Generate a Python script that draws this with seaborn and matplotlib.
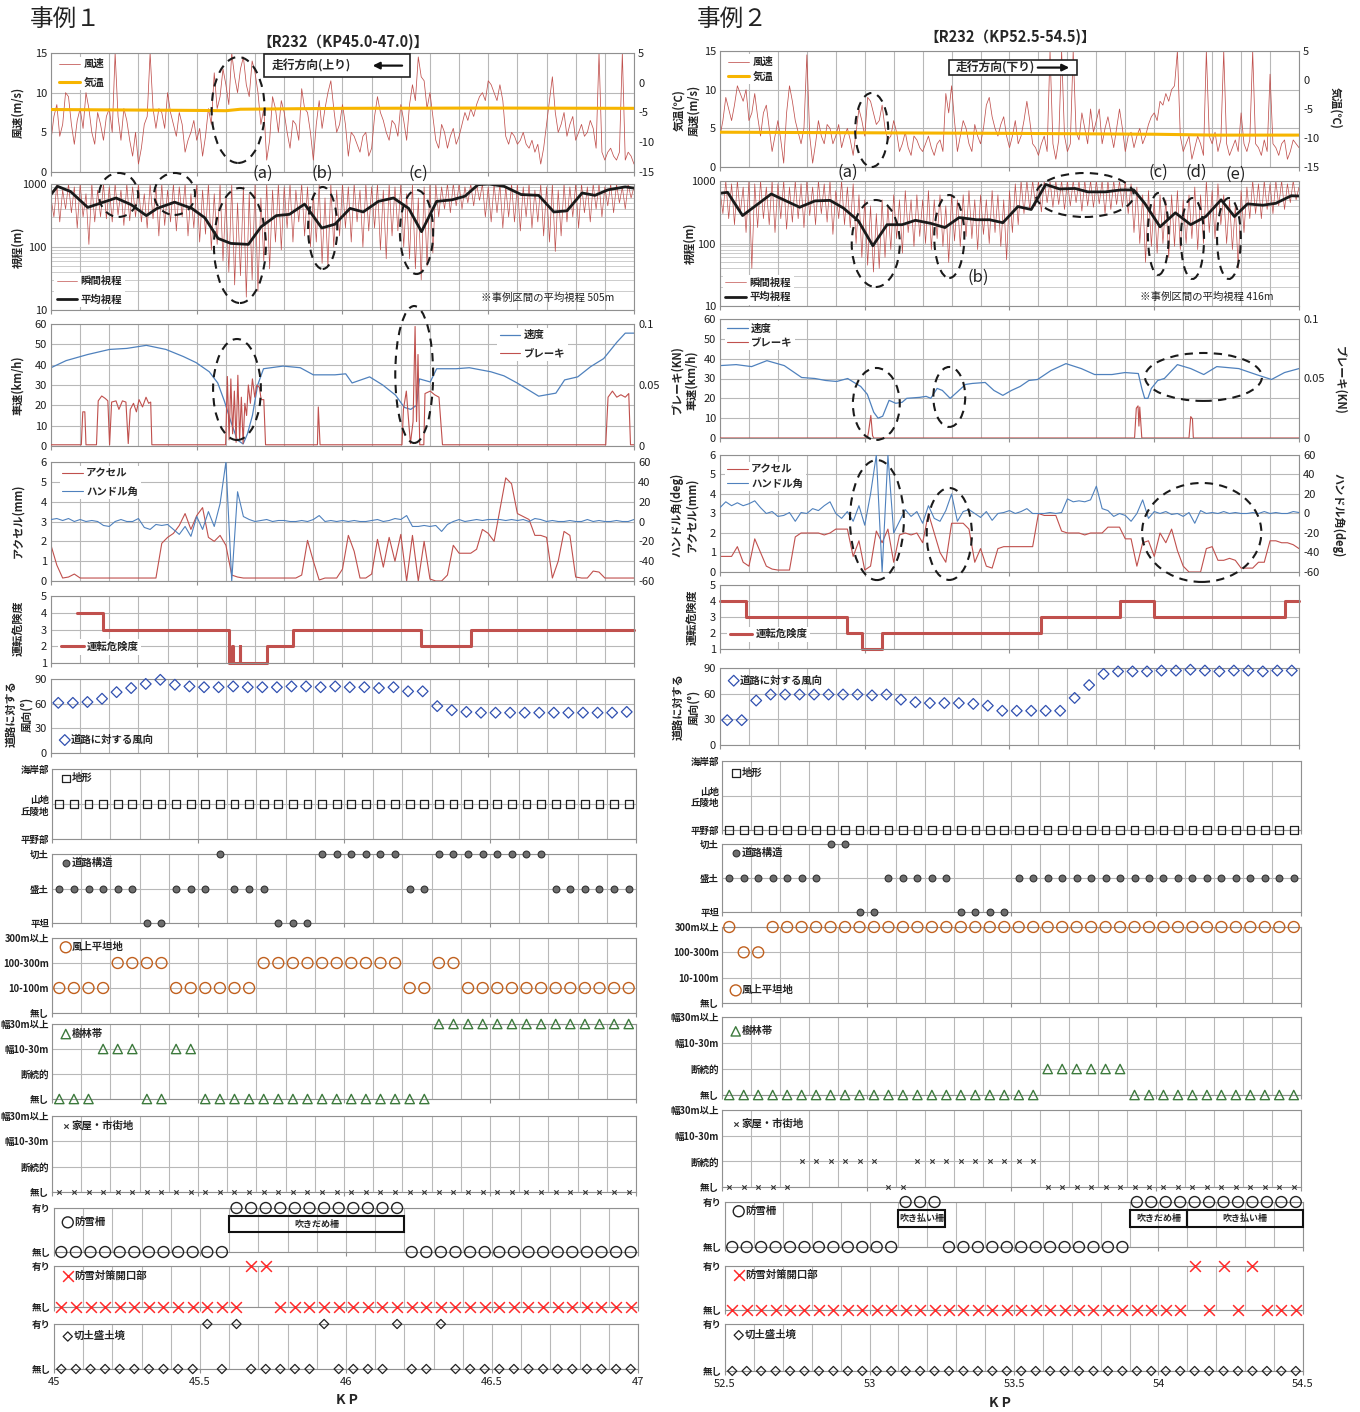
import numpy as np
import seaborn as sns
import matplotlib.pyplot as plt
from matplotlib.patches import Ellipse, Rectangle
from matplotlib.ticker import LogLocator, NullFormatter

# ---------------- data ----------------
# fast signals (wind, visibility) sampled every 0.01 KP, pedal/steering every 0.02 KP
kp1f = np.linspace(45.0, 47.0, 201)
kp2f = np.linspace(52.5, 54.5, 201)
kp1 = np.linspace(45.0, 47.0, 101)
kp2 = np.linspace(52.5, 54.5, 101)
# evaluation points every 50 m
kpc1 = 45.025 + 0.05 * np.arange(40)
kpc2 = 52.525 + 0.05 * np.arange(40)

# wind speed (m/s)
wind1 = [4, 7, 8.5, 4.5, 6, 10, 9.5, 6, 3.5, 6.5,
         8, 5.5, 10, 8, 5, 3.5, 7.5, 6, 4, 7,
         8, 5, 15, 7, 4, 8, 6.5, 4, 2, 5,
         1, 3, 6, 7, 15, 8, 5.5, 8, 7.5, 5.5,
         10, 7.5, 6, 4.5, 7.5, 6, 2.5, 4, 5, 6.5,
         4, 5.5, 2, 4.5, 8, 6, 12.5, 8, 9.5, 13,
         11, 8.5, 15, 12, 10, 13, 14.5, 11, 9.5, 14,
         12.5, 10, 6, 8, 1.5, 4, 9.5, 8, 5, 9,
         7.5, 5, 3, 6.5, 6, 4, 10.5, 8, 7.5, 5,
         1.5, 6, 9, 5.5, 8, 10, 11.5, 8, 5, 6,
         8.5, 6, 2, 5, 4.5, 3.5, 2.5, 4.5, 5, 2,
         3, 7, 9.5, 7.5, 6.5, 5, 4, 6.5, 6, 4.5,
         8.5, 6.5, 4, 8.5, 11, 9, 14.5, 12, 11.5, 8,
         10, 7, 4, 3, 6, 5, 3, 4.5, 5.5, 3.5,
         4.5, 6, 7.5, 6.5, 8, 7, 8.5, 9.5, 10, 9,
         11.5, 11, 10, 9, 11, 9, 4.5, 3.5, 5, 4.5,
         3.5, 4, 5, 3.5, 3, 4, 2.5, 3.5, 1, 3,
         6, 9, 12, 7.5, 5, 6, 7.5, 4.5, 6, 7,
         4, 5, 6, 4.5, 5, 6.5, 5.5, 3, 15, 2.5,
         1.5, 2.5, 3, 2, 1.5, 2.5, 15, 1.5, 2.5, 2,
         1]
wind2 = [4, 6, 9, 7.5, 6, 8, 10.5, 9.5, 8.5, 10,
         6, 7, 9.5, 6.5, 4, 7, 8, 5, 2, 4,
         6, 3.5, 0.5, 7, 10.5, 8.5, 6, 4.5, 3, 5,
         14.5, 4, 0.5, 3, 6, 4, 3, 5.5, 5, 3,
         4, 5.5, 2.5, 4, 5, 3.5, 1.5, 4.5, 7.5, 6,
         4, 9, 8.5, 7, 5.5, 6, 8, 5, 3.5, 4,
         6, 4.5, 2, 3, 4.5, 2.5, 1.5, 4, 3.5, 2.5,
         2, 3, 4, 2.5, 1.5, 3, 3.5, 2, 9.5, 7,
         10.5, 6, 2, 4, 6, 5, 3, 2, 5.5, 4,
         3, 5, 8, 9, 6.5, 5, 4, 5.5, 6.5, 4,
         2.5, 4, 6, 3, 4, 6, 8.5, 6, 3, 2.5,
         1.5, 3, 4, 2, 15, 3, 1, 3.5, 15, 4,
         2, 3, 15, 4.5, 3.5, 7, 5, 3, 7.5, 4.5,
         6, 7.5, 3, 5, 6.5, 4.5, 2.5, 5, 7.5, 5,
         2, 4, 4.5, 2.5, 4, 5, 3, 4, 5.5, 6.5,
         7, 6, 8.5, 8, 9.5, 8.5, 10, 10.5, 15, 4,
         2, 3, 4, 1, 2.5, 4, 3, 1.5, 15, 4,
         3, 4.5, 2, 3.5, 15, 3, 1.5, 2.5, 3.5, 2,
         7, 3, 2, 3.5, 15, 3, 2.5, 1.5, 3.5, 2,
         12, 3, 2.5, 1.5, 3, 3.5, 1, 2, 3.5, 3,
         2.5]

# air temperature (deg C)
temp1_kp = [45.0, 45.5, 45.6, 45.65, 46.0, 46.5, 47.0]
temp1 = [-4.5, -4.65, -4.7, -4.45, -4.3, -4.25, -4.3]
temp2_kp = [52.5, 53.0, 53.5, 54.0, 54.2, 54.5]
temp2 = [-9.0, -9.1, -9.2, -9.35, -9.5, -9.5]

# instantaneous visibility (m)
vis1 = [600, 300, 1000, 250, 800, 400, 1000, 350, 900, 200,
        1000, 300, 700, 110, 1000, 250, 800, 300, 1000, 280,
        900, 250, 1000, 320, 800, 220, 1000, 260, 900, 300,
        1000, 250, 700, 200, 1000, 280, 900, 150, 1000, 220,
        800, 250, 1000, 180, 900, 300, 1000, 150, 700, 200,
        1000, 120, 800, 160, 1000, 90, 700, 110, 1000, 60,
        600, 40, 1000, 25, 500, 35, 900, 16, 700, 30,
        1000, 20, 600, 60, 1000, 45, 800, 120, 1000, 90,
        900, 200, 1000, 120, 800, 250, 1000, 150, 900, 100,
        700, 120, 1000, 55, 600, 50, 1000, 100, 800, 150,
        1000, 200, 900, 120, 1000, 250, 800, 100, 1000, 180,
        900, 200, 1000, 90, 800, 65, 1000, 150, 900, 180,
        1000, 100, 700, 65, 1000, 45, 600, 30, 900, 50,
        1000, 80, 1000, 300, 900, 400, 1000, 350, 1000, 450,
        1000, 400, 900, 500, 1000, 450, 1000, 550, 1000, 300,
        900, 250, 1000, 350, 1000, 200, 900, 300, 1000, 250,
        1000, 180, 900, 300, 1000, 200, 800, 250, 1000, 150,
        900, 120, 1000, 85, 800, 150, 1000, 250, 900, 300,
        1000, 200, 1000, 350, 900, 250, 1000, 400, 1000, 300,
        900, 450, 1000, 350, 1000, 500, 900, 400, 1000, 600,
        900]
vis2 = [700, 300, 1000, 250, 900, 200, 1000, 300, 800, 150,
        1000, 40, 900, 180, 1000, 250, 800, 200, 1000, 150,
        900, 250, 1000, 170, 800, 220, 1000, 250, 900, 180,
        1000, 280, 800, 200, 1000, 300, 900, 220, 1000, 140,
        700, 250, 1000, 200, 800, 180, 900, 100, 600, 60,
        500, 45, 400, 35, 300, 40, 500, 60, 400, 80,
        600, 120, 500, 70, 700, 150, 500, 90, 600, 130,
        500, 100, 700, 80, 500, 120, 600, 90, 400, 50,
        600, 110, 500, 90, 600, 130, 700, 120, 500, 80,
        600, 140, 500, 100, 700, 150, 600, 90, 500, 55,
        700, 150, 900, 200, 1000, 300, 1000, 350, 1000, 400,
        1000, 320, 1000, 450, 1000, 380, 1000, 420, 1000, 350,
        1000, 400, 1000, 450, 1000, 330, 1000, 400, 1000, 380,
        1000, 430, 1000, 300, 1000, 350, 1000, 420, 1000, 380,
        1000, 300, 900, 150, 800, 100, 600, 50, 700, 90,
        500, 70, 600, 100, 500, 60, 600, 90, 700, 80,
        500, 100, 600, 120, 800, 80, 600, 100, 1000, 150,
        700, 120, 900, 200, 600, 100, 500, 80, 400, 40,
        700, 150, 800, 250, 1000, 300, 900, 250, 1000, 350,
        900, 300, 1000, 400, 1000, 350, 900, 450, 1000, 500,
        800]

# mean visibility (m)
vis1_avg_kp = [45.0, 45.022, 45.067, 45.126, 45.223, 45.275, 45.327, 45.364, 45.424, 45.483,
               45.528, 45.573, 45.617, 45.677, 45.721, 45.773, 45.818, 45.870, 45.929, 45.974,
               46.026, 46.071, 46.123, 46.175, 46.227, 46.271, 46.323, 46.375, 46.420, 46.465,
               46.502, 46.554, 46.613, 46.673, 46.725, 46.770, 46.822, 46.866, 46.911, 46.970, 47.0]
vis1_avg = [680, 920, 760, 425, 600, 470, 315, 410, 515, 410,
            290, 137, 114, 110, 210, 315, 330, 480, 200, 230,
            410, 360, 530, 600, 410, 175, 530, 560, 640, 975,
            1000, 920, 680, 660, 360, 375, 720, 660, 810, 900, 860]
vis2_avg_kp = [52.5, 52.526, 52.578, 52.677, 52.775, 52.828, 52.880, 52.926, 52.978, 53.028,
               53.077, 53.129, 53.175, 53.228, 53.277, 53.326, 53.386, 53.431, 53.477, 53.529,
               53.575, 53.625, 53.673, 53.726, 53.771, 53.831, 53.884, 53.929, 53.967, 54.020,
               54.073, 54.126, 54.178, 54.231, 54.277, 54.322, 54.375, 54.420, 54.473, 54.5]
vis2_avg = [635, 660, 280, 620, 380, 480, 490, 370, 230, 92,
            200, 200, 235, 210, 180, 260, 240, 240, 215, 390,
            350, 880, 745, 760, 670, 670, 720, 720, 440, 185,
            310, 200, 270, 500, 270, 430, 410, 440, 580, 575]

# vehicle speed (km/h)
speed1_kp = [45.0, 45.052, 45.126, 45.201, 45.260, 45.327, 45.394, 45.454, 45.498, 45.543,
             45.572, 45.595, 45.617, 45.639, 45.659, 45.674, 45.691, 45.709, 45.729, 45.796,
             45.855, 45.900, 45.974, 46.011, 46.033, 46.093, 46.138, 46.182, 46.212, 46.234,
             46.254, 46.264, 46.301, 46.323, 46.390, 46.435, 46.509, 46.554, 46.599, 46.673,
             46.732, 46.762, 46.807, 46.851, 46.896, 46.941, 46.970, 47.0]
speed1 = [38.5, 42, 45, 47.5, 48, 49.5, 47.5, 44, 41, 36.5,
          31, 22, 12, 3, 1, 6, 15, 30, 38, 39.3,
          38.5, 35, 35, 35.5, 31, 34, 30, 25, 19, 18,
          20, 33, 31.5, 38, 38, 38.5, 36.5, 34.5, 31, 24.5,
          26, 32.5, 34, 39, 43, 51, 55.5, 55.5]
speed2_kp = [52.5, 52.556, 52.609, 52.662, 52.722, 52.782, 52.828, 52.865, 52.903, 52.941,
             52.963, 52.986, 53.009, 53.031, 53.046, 53.062, 53.084, 53.107, 53.129, 53.145,
             53.190, 53.212, 53.228, 53.250, 53.268, 53.295, 53.318, 53.348, 53.371, 53.416,
             53.446, 53.477, 53.507, 53.537, 53.567, 53.597, 53.643, 53.695, 53.748, 53.794,
             53.854, 53.899, 53.945, 53.957, 53.967, 53.978, 53.990, 54.012, 54.035, 54.080,
             54.126, 54.171, 54.216, 54.292, 54.352, 54.405, 54.450, 54.5]
speed2 = [36.5, 37, 36, 39, 36.5, 30.5, 30, 29, 28.5, 30,
          28, 26, 22, 13, 10, 11, 19, 17.5, 18, 20,
          20.5, 21, 20, 25, 24, 20, 23, 27, 27.5, 28,
          24, 21.5, 24, 26, 29, 29.5, 34, 37.5, 35, 32,
          32, 33, 32.5, 25, 20, 20, 25, 29, 30, 37,
          35, 32, 36, 35, 32, 29.5, 33, 35]

# brake force (kN)
brake1_kp = [45.0, 45.104, 45.109, 45.116, 45.120, 45.156, 45.162, 45.174, 45.186, 45.195,
             45.201, 45.208, 45.223, 45.233, 45.245, 45.257, 45.265, 45.272, 45.283, 45.293,
             45.302, 45.314, 45.326, 45.335, 45.342, 45.346, 45.599, 45.605, 45.611, 45.617,
             45.623, 45.629, 45.635, 45.641, 45.647, 45.653, 45.659, 45.665, 45.671, 45.677,
             45.684, 45.691, 45.699, 45.706, 45.715, 45.721, 45.730, 45.736, 45.914, 45.917,
             45.923, 46.204, 46.209, 46.219, 46.227, 46.233, 46.242, 46.249, 46.254, 46.259,
             46.265, 46.279, 46.283, 46.301, 46.316, 46.331, 46.343, 46.903, 46.911, 46.926,
             46.941, 46.955, 46.970, 46.982, 46.988, 47.0]
brake1 = [0.001, 0.001, 0.028, 0.028, 0.001, 0.001, 0.037, 0.041, 0.039, 0.037,
          0.001, 0.036, 0.037, 0.03, 0.037, 0.036, 0.002, 0.03, 0.035, 0.028,
          0.038, 0.032, 0.04, 0.035, 0.036, 0.001, 0.001, 0.057, 0.005, 0.055,
          0.01, 0.045, 0.003, 0.058, 0.005, 0.04, 0.002, 0.035, 0.025, 0.05,
          0.035, 0.055, 0.04, 0.05, 0.048, 0.038, 0.038, 0.001, 0.001, 0.032,
          0.001, 0.001, 0.03, 0.045, 0.02, 0.002, 0.02, 0.098, 0.02, 0.075,
          0.001, 0.001, 0.043, 0.045, 0.042, 0.04, 0.001, 0.001, 0.04, 0.045,
          0.04, 0.042, 0.04, 0.043, 0.001, 0.001]
brake2_kp = [52.5, 53.009, 53.013, 53.021, 53.027, 53.031, 53.932, 53.938, 53.944, 53.947,
             53.950, 53.957, 54.120, 54.126, 54.132, 54.135, 54.5]
brake2 = [0, 0, 0.005, 0.019, 0.002, 0, 0, 0.025, 0.027, 0.01,
          0.026, 0, 0, 0.018, 0.016, 0, 0]

# accelerator (mm) and steering angle (deg)
accel1 = [1.8, 0.8, 0.15, 0.2, 0.35, 0.15, 0.15, 0.15, 0.15, 0.15,
          0.15, 0.15, 0.15, 0.15, 0.15, 0.15, 0.15, 0.15, 0.15, 1.9,
          2.2, 2.4, 2.8, 3.4, 2.6, 3.3, 3.7, 2.2, 2.0, 2.3,
          1.8, 0.3, 0.2, 0.15, 0.15, 0.15, 0.15, 0.15, 0.15, 0.15,
          0.15, 0.15, 0.15, 0.3, 2.05, 1.0, 0.05, 0.15, 0.15, 0.15,
          0.6, 2.3, 1.5, 0.15, 0.15, 0.35, 2.1, 0.7, 2.2, 1.0,
          2.35, 0.0, 2.3, 0.0, 2.0, 0.1, 0.0, 0.0, 0.3, 1.8,
          1.4, 1.4, 1.4, 1.6, 2.6, 2.4, 2.0, 3.6, 5.2, 4.9,
          3.4, 3.25, 3.1, 2.3, 2.3, 2.2, 0.15, 1.0, 2.5, 2.3,
          0.2, 0.15, 0.15, 0.5, 0.45, 0.15, 0.15, 0.15, 0.15, 0.15,
          0.15]
handle1 = [2, 3, 1, 3, 0, 2, 0, 1, 0, -4,
           -5, 0, 2, 0, 0, 3, -6, -8, -3, -4,
           -3, -8, -13, -5, -15, 5, -8, 10, -5, 18,
           60, -60, 30, 5, 2, 0, 1, 2, 0, 1,
           1, 0, 0, 1, 0, 2, 6, 0, 1, 0,
           1, 0, 1, 0, 0, 1, 2, 0, 1, 3,
           2, 6, -5, -5, -4, -5, -4, -10, -3, 0,
           2, 0, 1, 2, 1, 2, 2, 2, 1, 2,
           1, 2, 0, 3, 2, 0, 1, 0, 0, 1,
           0, 0, 2, 0, 1, 0, 0, 1, 0, 0,
           2]
accel2 = [0.8, 0.8, 0.8, 1.3, 0.5, 0.3, 1.7, 1.0, 0.3, 0.15,
          0.1, 0.1, 0.1, 1.8, 2.0, 2.0, 2.0, 2.0, 1.9, 2.0,
          2.2, 2.2, 2.2, 0.8, 1.6, 0.1, 0.3, 2.1, 1.5, 2.2,
          0.5, 1.9, 2.0, 1.9, 2.0, 1.5, 3.0, 2.0, 1.0, 0.5,
          2.5, 2.5, 2.5, 2.2, 0.5, 1.2, 0.3, 0.2, 1.2, 1.3,
          1.3, 1.3, 1.3, 1.3, 1.3, 3.0, 2.9, 2.9, 2.9, 2.1,
          2.0, 2.0, 2.0, 1.9, 2.0, 2.0, 2.0, 2.3, 2.3, 2.3,
          1.7, 1.7, 0.3, 1.5, 1.6, 0.8, 2.0, 1.5, 2.2, 1.1,
          0.3, 0.0, 0.0, 0.0, 1.2, 1.3, 0.6, 0.6, 0.7, 0.6,
          0.2, 0.2, 0.2, 0.5, 0.5, 1.6, 1.6, 1.5, 1.5, 1.4,
          1.2]
handle2 = [6, 12, 8, 11, 8, 10, 13, 6, 0, 2,
           -3, -2, 1, -8, 1, 0, 5, 3, 8, 12,
           0, -5, 2, -8, 8, -12, 20, 60, -60, 60,
           -20, -8, 4, -3, 2, -10, 8, -5, -8, 3,
           20, -8, 2, 4, 0, -4, 2, -7, 0, 1,
           3, 0, 2, 5, 0, 0, 0, 1, 0, 1,
           15, 12, 13, 12, 14, 28, 5, 3, -3, 0,
           -2, -8, 0, 14, -5, 2, 0, 2, -1, 0,
           -3, 1, -10, 3, 0, 1, 0, 2, 0, 1,
           0, 0, 1, 0, 2, 0, 1, 0, 0, 2,
           1]

# driving risk level (step values from each KP on)
risk1_kp = [45.09, 45.18, 45.61, 45.62, 45.623, 45.647, 45.65, 45.74, 45.83, 46.27, 46.44, 47.0]
risk1 = [4, 3, 1, 2, 1, 2, 1, 2, 3, 2, 3, 3]
risk2_kp = [52.5, 52.59, 52.94, 52.99, 53.06, 53.61, 53.88, 54.0, 54.45, 54.5]
risk2 = [4, 3, 2, 1, 2, 3, 4, 3, 4, 4]

# wind direction relative to the road (deg)
wdir1 = [61, 61, 62, 66, 74, 79, 84, 89, 83, 81, 80, 80, 81, 80, 80, 80, 81, 81, 80, 81,
         80, 80, 79, 80, 75, 75, 57, 52, 50, 49, 49, 49, 49, 49, 49, 49, 49, 49, 49, 50]
wdir2 = [29, 29, 52, 59, 59, 59, 59, 59, 59, 59, 58, 59, 53, 50, 49, 49, 49, 48, 46, 40,
         40, 40, 40, 40, 55, 70, 83, 86, 86, 86, 87, 87, 88, 87, 86, 87, 87, 86, 87, 87]

# roadside categories (index into the level names below)
terrain_levels = ["平野部", "山地\n丘陵地", "海岸部"]
road_levels = ["平坦", "盛土", "切土"]
flat_levels = ["無し", "10-100m", "100-300m", "300m以上"]
band_levels = ["無し", "断続的", "幅10-30m", "幅30m以上"]
yesno_levels = ["無し", "有り"]

terrain1 = [1, 1, 1, 1, 1, 1, 1, 1, 1, 1, 1, 1, 1, 1, 1, 1, 1, 1, 1, 1,
            1, 1, 1, 1, 1, 1, 1, 1, 1, 1, 1, 1, 1, 1, 1, 1, 1, 1, 1, 1]
road1 = [1, 1, 1, 1, 1, 1, 0, 0, 1, 1, 1, 2, 1, 1, 1, 0, 0, 0, 2, 2,
         2, 2, 2, 2, 1, 1, 2, 2, 2, 2, 2, 2, 2, 2, 1, 1, 1, 1, 1, 1]
flat1 = [1, 1, 1, 1, 2, 2, 2, 2, 1, 1, 1, 1, 1, 1, 2, 2, 2, 2, 2, 2,
         2, 2, 2, 2, 1, 1, 2, 2, 1, 1, 1, 1, 1, 1, 1, 1, 1, 1, 1, 1]
forest1 = [0, 0, 0, 2, 2, 2, 0, 0, 2, 2, 0, 0, 0, 0, 0, 0, 0, 0, 0, 0,
           0, 0, 0, 0, 0, 0, 3, 3, 3, 3, 3, 3, 3, 3, 3, 3, 3, 3, 3, 3]
house1 = [0, 0, 0, 0, 0, 0, 0, 0, 0, 0, 0, 0, 0, 0, 0, 0, 0, 0, 0, 0,
          0, 0, 0, 0, 0, 0, 0, 0, 0, 0, 0, 0, 0, 0, 0, 0, 0, 0, 0, 0]
fence1 = [0, 0, 0, 0, 0, 0, 0, 0, 0, 0, 0, 0, 1, 1, 1, 1, 1, 1, 1, 1,
          1, 1, 1, 1, 0, 0, 0, 0, 0, 0, 0, 0, 0, 0, 0, 0, 0, 0, 0, 0]
open1 = [0, 0, 0, 0, 0, 0, 0, 0, 0, 0, 0, 0, 0, 1, 1, 0, 0, 0, 0, 0,
         0, 0, 0, 0, 0, 0, 0, 0, 0, 0, 0, 0, 0, 0, 0, 0, 0, 0, 0, 0]
bound1 = [0, 0, 0, 0, 0, 0, 0, 0, 0, 0, 1, 0, 1, 0, 0, 0, 0, 0, 1, 0,
          0, 0, 0, 1, 0, 0, 1, 0, 0, 0, 0, 0, 0, 0, 0, 0, 0, 0, 0, 0]

terrain2 = [0, 0, 0, 0, 0, 0, 0, 0, 0, 0, 0, 0, 0, 0, 0, 0, 0, 0, 0, 0,
            0, 0, 0, 0, 0, 0, 0, 0, 0, 0, 0, 0, 0, 0, 0, 0, 0, 0, 0, 0]
road2 = [1, 1, 1, 1, 1, 1, 1, 2, 2, 0, 0, 1, 1, 1, 1, 1, 0, 0, 0, 0,
         1, 1, 1, 1, 1, 1, 1, 1, 1, 1, 1, 1, 1, 1, 1, 1, 1, 1, 1, 1]
flat2 = [3, 2, 2, 3, 3, 3, 3, 3, 3, 3, 3, 3, 3, 3, 3, 3, 3, 3, 3, 3,
         3, 3, 3, 3, 3, 3, 3, 3, 3, 3, 3, 3, 3, 3, 3, 3, 3, 3, 3, 3]
forest2 = [0, 0, 0, 0, 0, 0, 0, 0, 0, 0, 0, 0, 0, 0, 0, 0, 0, 0, 0, 0,
           0, 0, 1, 1, 1, 1, 1, 1, 0, 0, 0, 0, 0, 0, 0, 0, 0, 0, 0, 0]
house2 = [0, 0, 0, 0, 0, 1, 1, 1, 1, 1, 1, 0, 0, 1, 1, 1, 1, 1, 1, 1,
          1, 1, 0, 0, 0, 0, 0, 0, 0, 0, 0, 0, 0, 0, 0, 0, 0, 0, 0, 0]
fence2 = [0, 0, 0, 0, 0, 0, 0, 0, 0, 0, 0, 0, 1, 1, 1, 0, 0, 0, 0, 0,
          0, 0, 0, 0, 0, 0, 0, 0, 1, 1, 1, 1, 1, 1, 1, 1, 1, 1, 1, 1]
open2 = [0, 0, 0, 0, 0, 0, 0, 0, 0, 0, 0, 0, 0, 0, 0, 0, 0, 0, 0, 0,
         0, 0, 0, 0, 0, 0, 0, 0, 0, 0, 0, 0, 1, 0, 1, 0, 1, 0, 0, 0]
bound2 = [0, 0, 0, 0, 0, 0, 0, 0, 0, 0, 0, 0, 0, 0, 0, 0, 0, 0, 0, 0,
          0, 0, 0, 0, 0, 0, 0, 0, 0, 0, 0, 0, 0, 0, 0, 0, 0, 0, 0, 0]

# snow fence types (start KP, end KP, label)
fences1 = [(45.6, 46.2, "吹きだめ柵")]
fences2 = [(53.1, 53.26, "吹き払い柵"), (53.9, 54.1, "吹きだめ柵"), (54.1, 54.5, "吹き払い柵")]

# ---------------- style ----------------
sns.set_theme(style="white")
plt.rcParams["font.family"] = ["Noto Sans CJK JP", "DejaVu Sans"]
plt.rcParams["axes.unicode_minus"] = False

W, H = 1360, 1412
fig = plt.figure(figsize=(W / 100, H / 100), dpi=100)

RED = "#c0504d"
BLUE = "#4f81bd"
ORANGE = "#f7b500"
GRID = "#b8b8b8"
SPINE = "#909090"
TXT = "#1e1e1e"
FS = 8

CAT_STYLE = [
    (terrain_levels, "地形", dict(marker="s", s=30, facecolor="none", edgecolor="#222222", linewidth=0.9)),
    (road_levels, "道路構造", dict(marker="o", s=24, color="#6e6e6e", edgecolor="#333333", linewidth=0.8)),
    (flat_levels, "風上平坦地", dict(marker="o", s=62, facecolor="none", edgecolor="#c0601e", linewidth=1.0)),
    (band_levels, "樹林帯", dict(marker="^", s=45, facecolor="none", edgecolor="#3d7a3d", linewidth=1.0)),
    (band_levels, "家屋・市街地", dict(marker="x", s=10, color="#333333", linewidth=0.8)),
    (yesno_levels, "防雪柵", dict(marker="o", s=62, facecolor="none", edgecolor="#222222", linewidth=1.0)),
    (yesno_levels, "防雪対策開口部", dict(marker="x", s=60, color="#ff2a2a", linewidth=1.1)),
    (yesno_levels, "切土盛土境", dict(marker="D", s=22, facecolor="none", edgecolor="#222222", linewidth=0.9)),
]


def px_ax(x0, x1, y0, y1):
    return fig.add_axes([x0 / W, 1 - y1 / H, (x1 - x0) / W, (y1 - y0) / H])


def frame(ax, k0, bottom=False):
    ax.set_xlim(k0, k0 + 2)
    major = np.arange(k0, k0 + 2.001, 0.5)
    ax.set_xticks(major)
    ax.set_xticks(np.arange(k0, k0 + 2.001, 0.1), minor=True)
    ax.set_axisbelow(True)
    ax.grid(True, which="both", axis="x", color=GRID, linewidth=0.8)
    ax.grid(True, which="major", axis="y", color=GRID, linewidth=0.8)
    ax.tick_params(axis="x", which="major", bottom=True, length=3, width=0.8,
                   color=SPINE, labelsize=FS, pad=3, labelcolor=TXT)
    ax.tick_params(axis="x", which="minor", length=0)
    ax.tick_params(axis="y", which="both", length=0, labelsize=FS, pad=3, labelcolor=TXT)
    for s in ax.spines.values():
        s.set_color(SPINE)
        s.set_linewidth(0.8)
    ax.set_xlabel("")
    ax.set_ylabel("")
    if bottom:
        ax.set_xticklabels([f"{v:g}" for v in major])
    else:
        ax.tick_params(axis="x", labelbottom=False)


def twin(t, lo, hi, ticks, labels=None):
    t.set_ylim(lo, hi)
    t.set_yticks(ticks)
    if labels:
        t.set_yticklabels(labels)
    t.tick_params(axis="y", length=0, labelsize=FS, pad=3, labelcolor=TXT)
    t.grid(False)
    for s in t.spines.values():
        s.set_visible(False)
    t.set_ylabel("")


def leg(ax, handles, labels, loc, anchor, spacing=0.5, hl=2.0, tp=0.3, bg=True):
    lg = ax.legend(handles, labels, loc=loc, bbox_to_anchor=anchor, frameon=bg,
                   fancybox=False, facecolor="white", edgecolor="none", framealpha=1,
                   borderpad=0.25, handlelength=hl, handletextpad=tp,
                   labelspacing=spacing, borderaxespad=0,
                   prop={"weight": "bold", "size": 7.5})
    lg.set_zorder(10)


def ell(ax, cx, cy, w, h):
    ax.add_patch(Ellipse((cx, cy), w, h, transform=ax.transAxes, fill=False,
                         linestyle=(0, (4, 3)), linewidth=1.5, edgecolor="#1a1a1a",
                         clip_on=False, zorder=6))


def ftext(x, y, s, **kw):
    fig.text(x / W, 1 - y / H, s, **kw)


def line(ax, x, y, **kw):
    sns.lineplot(x=x, y=y, ax=ax, estimator=None, sort=False, legend=False, **kw)


def draw_case(c):
    k0 = c["kp0"]
    xa, xb, xc = c["xa"], c["xb"], c["xc"]
    R = c["rows"]
    L = c["leg"]
    E = c["ell"]
    top = []

    # 1 wind speed / temperature
    ax = px_ax(*xa, *R[0])
    line(ax, c["kpf"], c["wind"], color=RED, linewidth=0.55)
    ax.set_ylim(0, 15)
    ax.set_yticks([0, 5, 10, 15])
    frame(ax, k0)
    t = ax.twinx()
    line(t, c["temp_kp"], c["temp"], color=ORANGE, linewidth=2.2)
    twin(t, -15, 5, [-15, -10, -5, 0, 5])
    leg(t, [ax.lines[0], t.lines[0]], ["風速", "気温"], "upper left", L[0], c["lsp"])
    bx, by, bw, bh = c["box"]
    t.add_patch(Rectangle((bx, by), bw, bh, transform=t.transAxes, facecolor="white",
                          edgecolor="#222222", linewidth=1.2, zorder=7))
    t.text(c["box_text"][0], c["box_text"][1], c["dir_text"], transform=t.transAxes,
           fontsize=8.5, fontweight="bold", va="center", ha="left", zorder=8)
    t.annotate("", xy=(c["arrow"][1], c["box_text"][1]), xytext=(c["arrow"][0], c["box_text"][1]),
               xycoords="axes fraction", textcoords="axes fraction", zorder=8,
               arrowprops=dict(arrowstyle="-|>", color="#111111", lw=1.6, mutation_scale=10))
    top.append(t)

    # 2 visibility
    ax = px_ax(*xa, *R[1])
    line(ax, c["kpf"], c["vis"], color=RED, linewidth=0.5)
    line(ax, c["avg_kp"], c["avg"], color="#1a1a1a", linewidth=2.0)
    ax.set_yscale("log")
    ax.set_ylim(10, 1000)
    ax.set_yticks([10, 100, 1000])
    ax.set_yticklabels(["10", "100", "1000"])
    ax.yaxis.set_minor_locator(LogLocator(base=10, subs=np.arange(2, 10)))
    ax.yaxis.set_minor_formatter(NullFormatter())
    frame(ax, k0)
    ax.grid(True, which="minor", axis="y", color=GRID, linewidth=0.5)
    leg(ax, [ax.lines[0], ax.lines[1]], ["瞬間視程", "平均視程"], "lower left", L[1], c["lsp"])
    top.append(ax)

    # 3 speed / brake
    ax = px_ax(*xa, *R[2])
    line(ax, c["speed_kp"], c["speed"], color=BLUE, linewidth=0.9)
    ax.set_ylim(0, 60)
    ax.set_yticks(range(0, 61, 10))
    frame(ax, k0)
    t = ax.twinx()
    line(t, c["brake_kp"], c["brake"], color=RED, linewidth=0.8)
    twin(t, 0, 0.1, [0, 0.05, 0.1], ["0", "0.05", "0.1"])
    leg(t, [ax.lines[0], t.lines[0]], ["速度", "ブレーキ"], "upper left", L[2], c["lsp"])
    top.append(t)

    # 4 accelerator / steering
    ax = px_ax(*xa, *R[3])
    line(ax, c["kp"], c["accel"], color=RED, linewidth=0.8)
    ax.set_ylim(0, 6)
    ax.set_yticks(range(0, 7))
    frame(ax, k0)
    t = ax.twinx()
    line(t, c["kp"], c["handle"], color=BLUE, linewidth=0.8)
    twin(t, -60, 60, range(-60, 61, 20))
    leg(t, [ax.lines[0], t.lines[0]], ["アクセル", "ハンドル角"], "upper left", L[3], c["lsp"])
    top.append(t)

    for i, items in E.items():
        for e in items:
            ell(top[i], *e)

    # 5 risk level
    ax = px_ax(*xa, *R[4])
    line(ax, c["risk_kp"], c["risk"], color=RED, linewidth=2.2, drawstyle="steps-post", clip_on=False)
    ax.set_ylim(1, 5)
    ax.set_yticks(range(1, 6))
    frame(ax, k0)
    leg(ax, [ax.lines[0]], ["運転危険度"], "center left", L[4], hl=2.2)

    # 6 wind direction
    ax = px_ax(*xa, *R[5])
    sns.scatterplot(x=c["kpc"], y=c["wdir"], ax=ax, marker="D", s=30, facecolor="none",
                    edgecolor="#3050b0", linewidth=0.9, legend=False, clip_on=False, zorder=3)
    ax.set_ylim(0, 90)
    ax.set_yticks([0, 30, 60, 90])
    frame(ax, k0)
    leg(ax, [ax.collections[0]], ["道路に対する風向"], "center left", L[5], hl=0.8, tp=0.2, bg=False)

    # 7-14 roadside categories
    for j, (vals, (levels, name, style)) in enumerate(zip(c["cats"], CAT_STYLE)):
        xs = xb if j < 5 else xc
        ax = px_ax(*xs, *R[6 + j])
        sns.scatterplot(x=c["kpc"], y=vals, ax=ax, legend=False, clip_on=False, zorder=3, **style)
        n = len(levels)
        ax.set_ylim(0, n - 1)
        ax.set_yticks(range(n))
        ax.set_yticklabels(levels)
        frame(ax, k0, bottom=(j == 7))
        ax.tick_params(axis="y", labelsize=6.8, pad=2)
        for lab in ax.get_yticklabels():
            lab.set_fontweight("bold")
        leg(ax, [ax.collections[0]], [name], "center left", L[6 + j], hl=0.8, tp=0.2, bg=False)
        if j == 5:
            for a, b, s in c["fences"]:
                ax.add_patch(Rectangle((a, 0.45), b - a, 0.37, fill=False, edgecolor="#111111",
                                       linewidth=1.5, clip_on=False, zorder=4))
                ax.text((a + b) / 2, 0.635, s, ha="center", va="center", fontsize=6.5,
                        fontweight="bold", zorder=5)

    # texts
    ftext(*c["title"][1:], c["title"][0], fontsize=17, ha="left", va="center", color="#222222")
    ftext(*c["sub"][1:], c["sub"][0], fontsize=10.5, fontweight="bold", ha="center", va="center")
    for s, x, y in c["marks"]:
        ftext(x, y, s, fontsize=12, ha="center", va="center", color="#222222")
    ftext(*c["note"][1:], c["note"][0], fontsize=7.5, ha="center", va="center", color="#222222")
    ftext(*c["kplab"], "K P", fontsize=10, fontweight="bold", ha="center", va="center")
    for s, x, y in c["ylabs"]:
        ftext(x, y, s, rotation=90, fontsize=8, fontweight="bold", ha="center", va="center",
              multialignment="center")
    for s, x, y in c["rlabs"]:
        ftext(x, y, s, rotation=-90, fontsize=8, fontweight="bold", ha="center", va="center")


case1 = dict(
    kp0=45.0, kp=kp1, kpf=kp1f, kpc=kpc1, wind=wind1, temp_kp=temp1_kp, temp=temp1,
    vis=vis1, avg_kp=vis1_avg_kp, avg=vis1_avg, speed_kp=speed1_kp, speed=speed1,
    brake_kp=brake1_kp, brake=brake1, accel=accel1, handle=handle1,
    risk_kp=risk1_kp, risk=risk1, wdir=wdir1,
    cats=[terrain1, road1, flat1, forest1, house1, fence1, open1, bound1], fences=fences1,
    xa=(51, 634), xb=(52, 636), xc=(54, 638),
    rows=[(53, 172), (184, 310), (324, 446), (462, 581), (596, 663), (679, 753),
          (769, 839), (854, 923), (938, 1013), (1024, 1099), (1116, 1192),
          (1208, 1252), (1266, 1307), (1324, 1369)],
    leg=[(0.01, 0.97), (0.005, 0.02), (0.765, 0.97), (0.015, 0.97), (0.012, 0.24), (0.012, 0.18),
         (0.012, 0.87), (0.012, 0.87), (0.012, 0.88), (0.012, 0.87), (0.012, 0.87),
         (0.012, 0.68), (0.012, 0.76), (0.012, 0.73)],
    lsp=0.8,
    ell={0: [(0.321, 0.521, 0.091, 0.89)],
         1: [(0.116, 0.913, 0.067, 0.349), (0.212, 0.921, 0.070, 0.333), (0.324, 0.512, 0.089, 0.913),
             (0.466, 0.651, 0.050, 0.651), (0.627, 0.619, 0.057, 0.667)],
         2: [(0.319, 0.463, 0.082, 0.828), (0.623, 0.586, 0.065, 1.123)]},
    box=(0.365, 0.798, 0.251, 0.192), box_text=(0.379, 0.894), arrow=(0.607, 0.547),
    dir_text="走行方向(上り)",
    title=("事例１", 30, 19), sub=("【R232（KP45.0-47.0)】", 343, 42),
    marks=[("(a)", 263, 173), ("(b)", 322, 173), ("(c)", 418, 173)],
    note=("※事例区間の平均視程 505m", 548, 298), kplab=(347, 1400),
    ylabs=[("風速(m/s)", 18, 112), ("視程(m)", 18, 247), ("車速(km/h)", 18, 385),
           ("アクセル(mm)", 18, 521), ("運転危険度", 18, 628), ("道路に対する\n風向(°)", 19, 714)],
    rlabs=[],
)

case2 = dict(
    kp0=52.5, kp=kp2, kpf=kp2f, kpc=kpc2, wind=wind2, temp_kp=temp2_kp, temp=temp2,
    vis=vis2, avg_kp=vis2_avg_kp, avg=vis2_avg, speed_kp=speed2_kp, speed=speed2,
    brake_kp=brake2_kp, brake=brake2, accel=accel2, handle=handle2,
    risk_kp=risk2_kp, risk=risk2, wdir=wdir2,
    cats=[terrain2, road2, flat2, forest2, house2, fence2, open2, bound2], fences=fences2,
    xa=(720, 1299), xb=(722, 1301), xc=(725, 1303),
    rows=[(51, 167), (181, 306), (319, 438), (455, 572), (585, 649), (668, 745),
          (761, 830), (844, 912), (927, 1003), (1017, 1095), (1110, 1187),
          (1202, 1247), (1266, 1310), (1324, 1371)],
    leg=[(0.01, 0.97), (0.005, 0.01), (0.008, 0.985), (0.008, 0.94), (0.012, 0.23), (0.012, 0.84),
         (0.012, 0.83), (0.012, 0.87), (0.012, 0.17), (0.012, 0.82), (0.012, 0.82),
         (0.012, 0.80), (0.012, 0.80), (0.012, 0.77)],
    lsp=0.4,
    ell={0: [(0.262, 0.319, 0.057, 0.638)],
         1: [(0.269, 0.5, 0.083, 0.696), (0.396, 0.556, 0.052, 0.664), (0.630, 0.888, 0.169, 0.352),
             (0.757, 0.576, 0.036, 0.656), (0.816, 0.54, 0.04, 0.648), (0.879, 0.54, 0.041, 0.648)],
         2: [(0.270, 0.286, 0.081, 0.605), (0.396, 0.345, 0.055, 0.504), (0.835, 0.513, 0.202, 0.403)],
         3: [(0.271, 0.444, 0.093, 1.026), (0.396, 0.325, 0.078, 0.786), (0.832, 0.338, 0.206, 0.846)]},
    box=(0.396, 0.793, 0.221, 0.129), box_text=(0.408, 0.857), arrow=(0.544, 0.608),
    dir_text="走行方向(下り)",
    title=("事例２", 697, 19), sub=("【R232（KP52.5-54.5)】", 1010, 37),
    marks=[("(a)", 848, 172), ("(b)", 978, 277), ("(c)", 1158, 172), ("(d)", 1196, 172), ("(e)", 1236, 174)],
    note=("※事例区間の平均視程 416m", 1207, 297), kplab=(1000, 1403),
    ylabs=[("気温(℃)\n風速(m/s)", 686, 110), ("視程(m)", 690, 243), ("ブレーキ(KN)\n車速(km/h)", 684, 380),
           ("ハンドル角(deg)\nアクセル(mm)", 684, 515), ("運転危険度", 692, 617),
           ("道路に対する\n風向(°)", 686, 707)],
    rlabs=[("気温(℃)", 1336, 108), ("ブレーキ(KN)", 1340, 380), ("ハンドル角(deg)", 1338, 515)],
)

draw_case(case1)
draw_case(case2)

fig.savefig("out.png", dpi=100)
